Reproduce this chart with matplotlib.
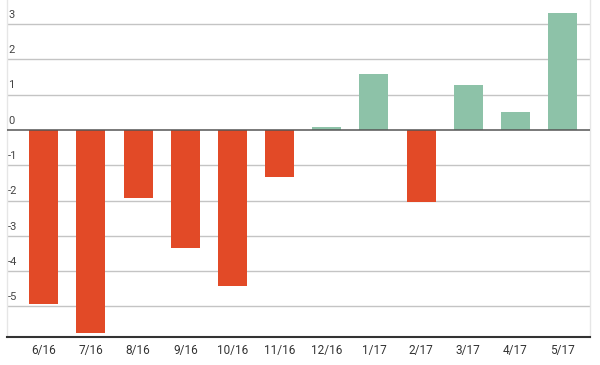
import matplotlib
matplotlib.use("Agg")
import matplotlib.pyplot as plt
import matplotlib.transforms as mtransforms

categories = ["6/16", "7/16", "8/16", "9/16", "10/16", "11/16", "12/16",
              "1/17", "2/17", "3/17", "4/17", "5/17"]
values = [-4.92, -5.75, -1.92, -3.33, -4.42, -1.32, 0.09,
          1.59, -2.03, 1.28, 0.50, 3.30]
yticks = [-5, -4, -3, -2, -1, 0, 1, 2, 3]
ytick_labels = ["-5", "-4", "-3", "-2", "-1", "0", "1", "2", "3"]

RED = "#E24A27"
GREEN = "#8DC2A8"

plt.rcParams['font.family'] = ['Roboto', 'DejaVu Sans']

fig = plt.figure(figsize=(6.0, 3.65), dpi=100)
ax = fig.add_axes([7/600, 1 - 337/365, 583/600, 337/365])

x = list(range(len(categories)))
colors = [GREEN if v >= 0 else RED for v in values]
ax.bar(x, values, width=0.615, color=colors, zorder=3)

ax.set_xlim(-0.78, len(categories) - 1 + 0.58)
ax.set_ylim(-5.864, 3.68)

for t in yticks:
    if t == 0:
        ax.axhline(t, color="#555555", lw=1.1, zorder=4)
    else:
        ax.axhline(t, color="#c4c4c4", lw=1.0, zorder=1)

trans = mtransforms.blended_transform_factory(ax.transAxes, ax.transData)
for t, lab in zip(yticks, ytick_labels):
    ax.text(0.002, t + 0.12, lab, transform=trans, ha="left", va="bottom",
            fontsize=8, color="#444444", zorder=5)

ax.set_yticks([])
ax.set_xticks(x)
ax.set_xticklabels(categories, fontsize=8.5, color="#333333")
ax.tick_params(axis="x", length=0, pad=5)

for s in ["left", "right", "top"]:
    ax.spines[s].set_color("#e6e6e6")
    ax.spines[s].set_linewidth(1.0)
ax.spines["top"].set_visible(False)
ax.spines["bottom"].set_color("#333333")
ax.spines["bottom"].set_linewidth(1.5)

fig.savefig("out.png", dpi=100)
